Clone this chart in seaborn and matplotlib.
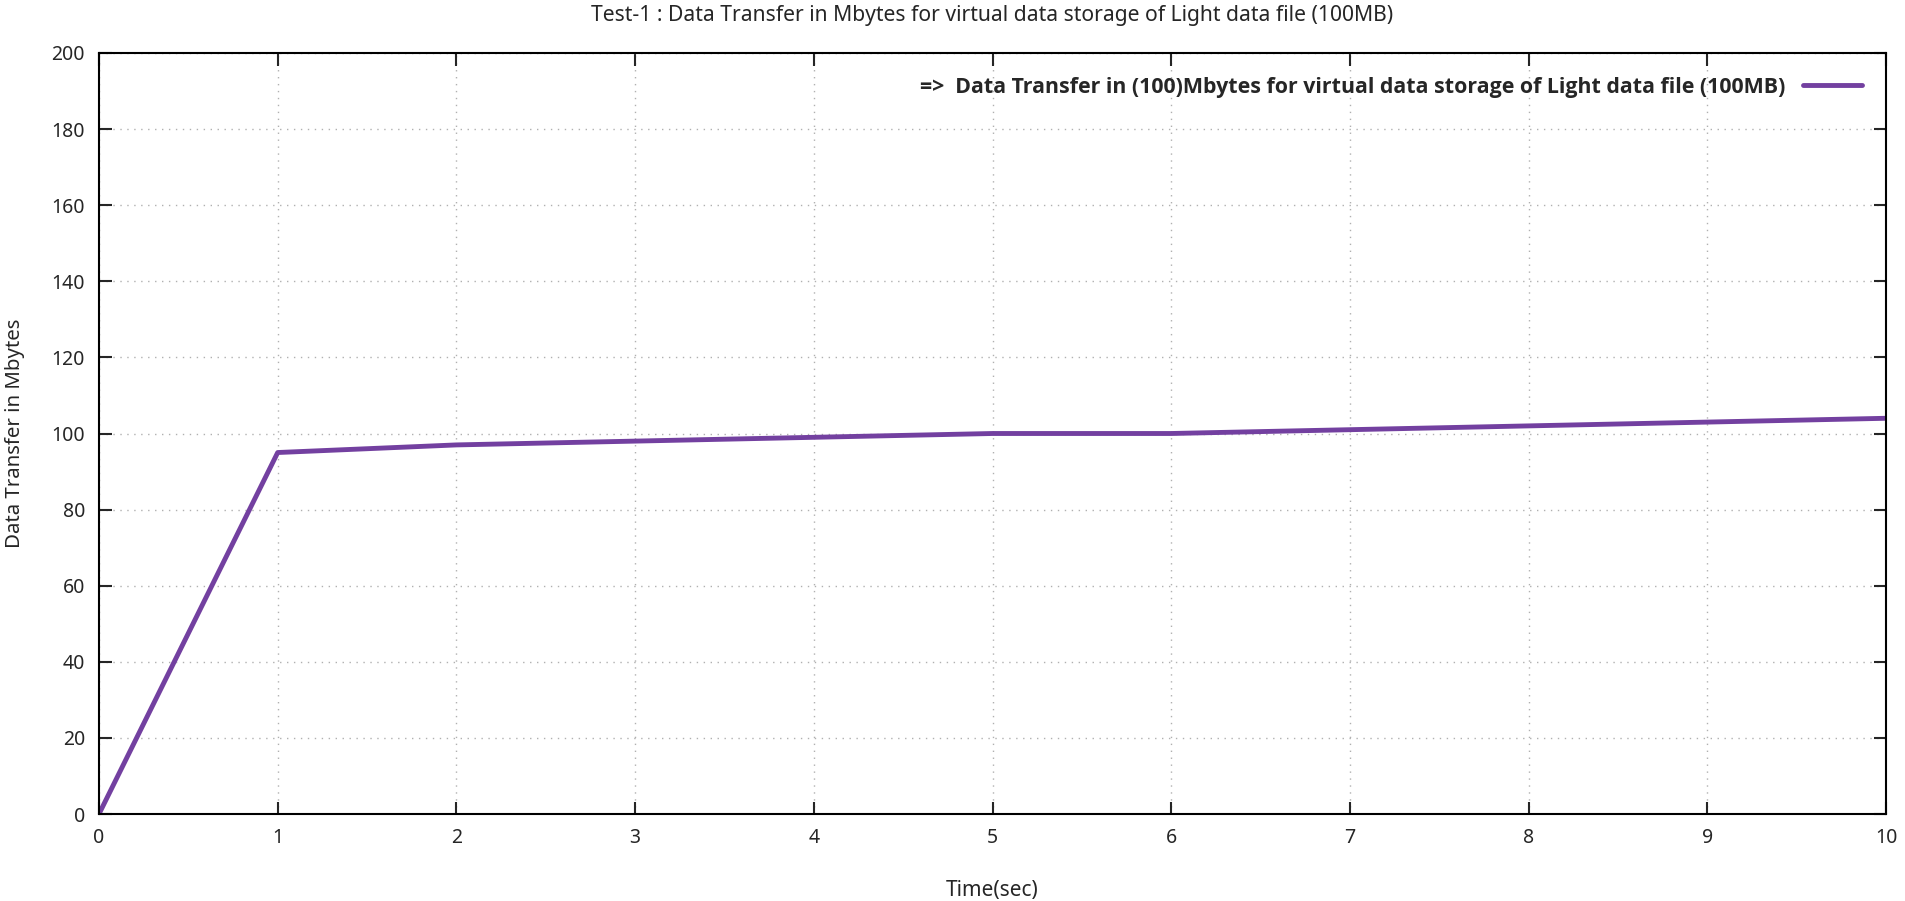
import numpy as np
import matplotlib
matplotlib.use("Agg")
import matplotlib.pyplot as plt
import seaborn as sns
import pandas as pd

# data
time_sec = [0, 1, 2, 3, 4, 5, 6, 7, 8, 9, 10]
mbytes = [0, 95, 97, 98, 99, 100, 100, 101, 102, 103, 104]
series_name = "=>  Data Transfer in (100)Mbytes for virtual data storage of Light data file (100MB)"

sns.set_style("ticks")
plt.rcParams['font.family'] = ['Noto Sans', 'DejaVu Sans']

df = pd.DataFrame({"Time(sec)": time_sec, "Mbytes": mbytes})

fig = plt.figure(figsize=(19.05, 9.01), dpi=100)
ax = fig.add_axes([99 / 1905, 1 - 814 / 901, (1886 - 99) / 1905, (814 - 53) / 901])

sns.lineplot(data=df, x="Time(sec)", y="Mbytes", ax=ax, color="#7340a0",
             linewidth=3.5, label=series_name)

ax.set_xlim(0, 10)
ax.set_ylim(0, 200)
ax.set_xticks(range(0, 11))
ax.set_yticks(range(0, 201, 20))
ax.grid(True, linestyle=(0, (1, 4)), color="#b0b0b0", linewidth=1)
ax.tick_params(direction="in", length=9, width=1.5, labelsize=14,
               top=True, right=True, pad=10)
for s in ax.spines.values():
    s.set_linewidth(1.5)
    s.set_color("black")

ax.set_xlabel("Time(sec)", fontsize=15, labelpad=23)
ax.set_ylabel("Data Transfer in Mbytes", fontsize=14.7, labelpad=19)
ax.set_title("Test-1 : Data Transfer in Mbytes for virtual data storage of Light data file (100MB)",
             fontsize=15.2, pad=23)

leg = ax.legend(loc="upper right", frameon=False, markerfirst=False,
                prop={"family": "Open Sans", "weight": "bold", "size": 15.4},
                handlelength=2.8, borderaxespad=0.7)

fig.savefig("out.png", dpi=100)
